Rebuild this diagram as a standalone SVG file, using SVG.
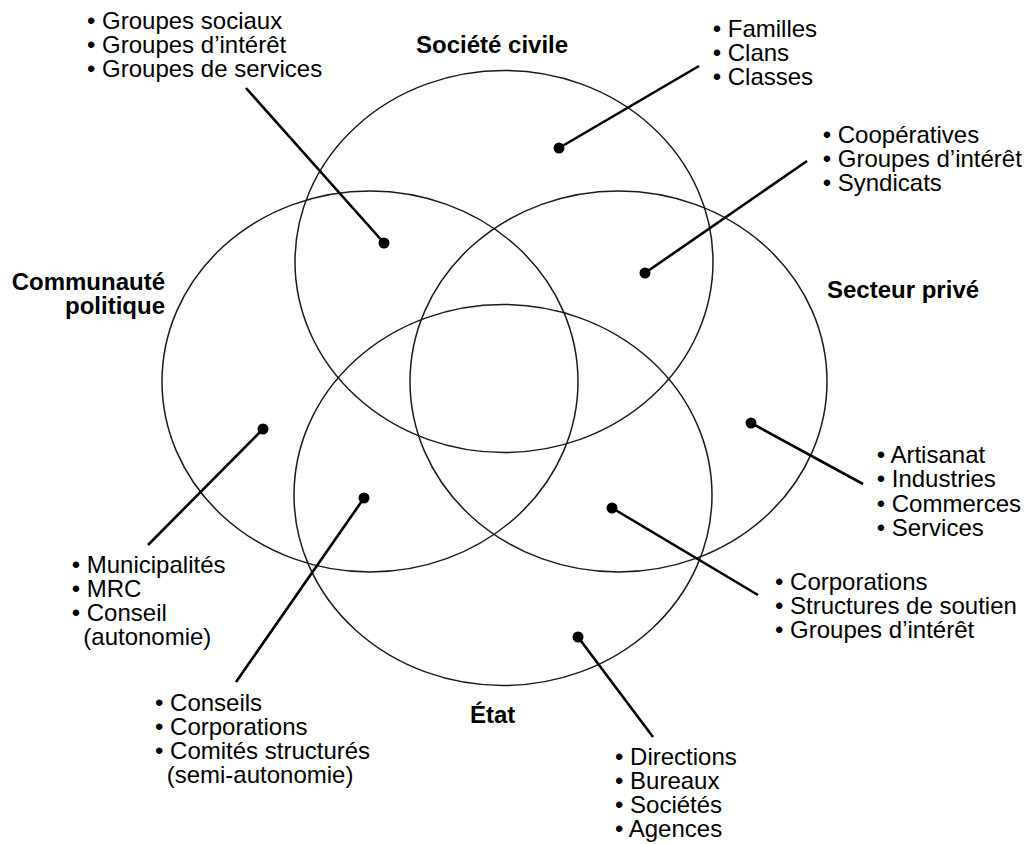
<svg xmlns="http://www.w3.org/2000/svg" width="1029" height="844" viewBox="0 0 1029 844">
<style>
.set{fill:none;stroke:#1a1a1a;stroke-width:1.5}
.lead{stroke:#000;stroke-width:2.6;stroke-linecap:butt}
.dot{fill:#000}
.t{font-family:"Liberation Sans",Arial,Helvetica,sans-serif;font-size:24px;fill:#000}
.b{font-family:"Liberation Sans",Arial,Helvetica,sans-serif;font-size:24px;font-weight:bold;fill:#000}
</style>
<rect width="1029" height="844" fill="#fff"/>
<g id="societe-civile">
<ellipse class="set" cx="504" cy="261.5" rx="209" ry="191"/>
<text class="b" x="416" y="53">Société civile</text>
</g>
<g id="communaute-politique">
<ellipse class="set" cx="370" cy="381.5" rx="208" ry="190.5"/>
<text class="b" text-anchor="end"><tspan x="165" y="290">Communauté</tspan><tspan x="165" y="314">politique</tspan></text>
</g>
<g id="secteur-prive">
<ellipse class="set" cx="618.5" cy="381.5" rx="208.5" ry="190.5"/>
<text class="b" x="827" y="298">Secteur privé</text>
</g>
<g id="etat">
<ellipse class="set" cx="503" cy="495" rx="209" ry="190.5"/>
<text class="b" x="470" y="723">État</text>
</g>
<g id="connectors">
<line class="lead" x1="384" y1="243" x2="246" y2="88"/>
<line class="lead" x1="559" y1="148" x2="699" y2="66"/>
<line class="lead" x1="645" y1="273" x2="807" y2="161"/>
<line class="lead" x1="751" y1="423" x2="863" y2="484"/>
<line class="lead" x1="612" y1="508" x2="758" y2="595"/>
<line class="lead" x1="578" y1="637" x2="653" y2="737"/>
<line class="lead" x1="263" y1="429" x2="148" y2="545"/>
<line class="lead" x1="364" y1="498" x2="236" y2="682"/>
<circle class="dot" cx="384" cy="243" r="5.5"/>
<circle class="dot" cx="559" cy="148" r="5.5"/>
<circle class="dot" cx="645" cy="273" r="5.5"/>
<circle class="dot" cx="751" cy="423" r="5.5"/>
<circle class="dot" cx="612" cy="508" r="5.5"/>
<circle class="dot" cx="578" cy="637" r="5.5"/>
<circle class="dot" cx="263" cy="429" r="5.5"/>
<circle class="dot" cx="364" cy="498" r="5.5"/>
</g>
<g id="list-groupes">
<text class="t"><tspan x="87" y="29">• Groupes sociaux</tspan><tspan x="87" y="53">• Groupes d’intérêt</tspan><tspan x="87" y="77">• Groupes de services</tspan></text>
</g>
<g id="list-familles">
<text class="t"><tspan x="712.7" y="37">• Familles</tspan><tspan x="712.7" y="61">• Clans</tspan><tspan x="712.7" y="85">• Classes</tspan></text>
</g>
<g id="list-cooperatives">
<text class="t"><tspan x="822.7" y="143">• Coopératives</tspan><tspan x="822.7" y="167">• Groupes d’intérêt</tspan><tspan x="822.7" y="191">• Syndicats</tspan></text>
</g>
<g id="list-artisanat">
<text class="t"><tspan x="876.7" y="463">• Artisanat</tspan><tspan x="876.7" y="487">• Industries</tspan><tspan x="876.7" y="512">• Commerces</tspan><tspan x="876.7" y="536">• Services</tspan></text>
</g>
<g id="list-corporations">
<text class="t"><tspan x="775" y="590">• Corporations</tspan><tspan x="775" y="614">• Structures de soutien</tspan><tspan x="775" y="638">• Groupes d’intérêt</tspan></text>
</g>
<g id="list-directions">
<text class="t"><tspan x="615" y="765">• Directions</tspan><tspan x="615" y="789">• Bureaux</tspan><tspan x="615" y="813">• Sociétés</tspan><tspan x="615" y="837">• Agences</tspan></text>
</g>
<g id="list-municipalites">
<text class="t"><tspan x="71.7" y="573">• Municipalités</tspan><tspan x="71.7" y="597">• MRC</tspan><tspan x="71.7" y="621">• Conseil</tspan><tspan x="83.3" y="645">(autonomie)</tspan></text>
</g>
<g id="list-conseils">
<text class="t"><tspan x="155" y="711">• Conseils</tspan><tspan x="155" y="735">• Corporations</tspan><tspan x="155" y="759">• Comités structurés</tspan><tspan x="166.7" y="783">(semi-autonomie)</tspan></text>
</g>
</svg>
